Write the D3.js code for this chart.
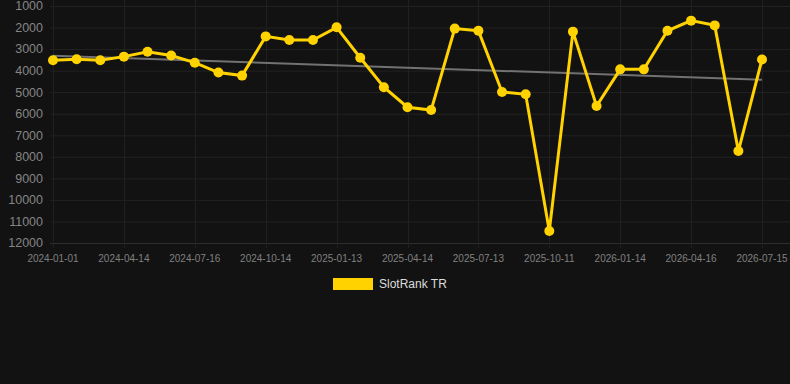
<!DOCTYPE html>
<html>
<head>
<meta charset="utf-8">
<script src="https://cdn.jsdelivr.net/npm/d3@7"></script>
<style>
    html, body { margin: 0; padding: 0; background: #121212; }
    #chart { width: 790px; height: 384px; }
    text { font-family: "Liberation Sans", Arial, sans-serif; }
</style>
</head>
<body>
<div id="chart"></div>
<script>
// categories (one per sample, every third one is labelled)
const dates = [
    '2024-01-01', '2024-02-04', '2024-03-10', '2024-04-14', '2024-05-15', '2024-06-15',
    '2024-07-16', '2024-08-15', '2024-09-14', '2024-10-14', '2024-11-13', '2024-12-13',
    '2025-01-13', '2025-02-12', '2025-03-14', '2025-04-14', '2025-05-14', '2025-06-13',
    '2025-07-13', '2025-08-12', '2025-09-11', '2025-10-11', '2025-11-13', '2025-12-14',
    '2026-01-14', '2026-02-14', '2026-03-16', '2026-04-16', '2026-05-16', '2026-06-15',
    '2026-07-15'
];
const rankTR = [
    3520, 3475, 3520, 3350, 3120, 3300, 3630, 4090, 4230, 2410, 2580,
    2580, 1990, 3400, 4770, 5700, 5830, 2050, 2150, 4990, 5100, 11440,
    2190, 5640, 3940, 3940, 2150, 1680, 1900, 7730, 3480
];
const trendEnds = [3310, 4420];
const yTicks = [1000, 2000, 3000, 4000, 5000, 6000, 7000, 8000, 9000, 10000, 11000, 12000];
const seriesName = 'SlotRank TR';

const width = 790;
const height = 384;

const svg = d3.select('#chart').append('svg')
    .attr('width', width)
    .attr('height', height);

const x = d3.scalePoint()
    .domain(dates)
    .range([53, 762]);

const y = d3.scaleLinear()
    .domain([1000, 12000])
    .range([6, 243]);

// horizontal grid
svg.append('g')
    .selectAll('line')
    .data(yTicks)
    .enter().append('line')
    .attr('x1', 50)
    .attr('x2', width)
    .attr('y1', d => y(d) + 0.5)
    .attr('y2', d => y(d) + 0.5)
    .attr('stroke', d => d === 12000 ? '#2e2e2e' : '#222222');

// vertical grid on labelled categories
const labelled = dates.filter((d, i) => i % 3 === 0);
svg.append('g')
    .selectAll('line')
    .data(labelled)
    .enter().append('line')
    .attr('x1', d => Math.round(x(d)) + 0.5)
    .attr('x2', d => Math.round(x(d)) + 0.5)
    .attr('y1', 0)
    .attr('y2', 248)
    .attr('stroke', '#202020');

// y labels
svg.append('g')
    .selectAll('text')
    .data(yTicks)
    .enter().append('text')
    .attr('x', 43)
    .attr('y', d => y(d))
    .attr('dy', '0.35em')
    .attr('text-anchor', 'end')
    .attr('fill', '#858585')
    .attr('font-size', '12.5px')
    .text(d => d);

// x labels
svg.append('g')
    .selectAll('text')
    .data(labelled)
    .enter().append('text')
    .attr('x', d => x(d))
    .attr('y', 262)
    .attr('text-anchor', 'middle')
    .attr('fill', '#808080')
    .attr('font-size', '10px')
    .text(d => d);

// trend line
svg.append('line')
    .attr('x1', x(dates[0]))
    .attr('x2', x(dates[dates.length - 1]))
    .attr('y1', y(trendEnds[0]))
    .attr('y2', y(trendEnds[1]))
    .attr('stroke', '#727272')
    .attr('stroke-width', 2);

// series line
const line = d3.line()
    .x((d, i) => x(dates[i]))
    .y(d => y(d));

svg.append('path')
    .datum(rankTR)
    .attr('d', line)
    .attr('fill', 'none')
    .attr('stroke', '#ffd200')
    .attr('stroke-width', 3);

svg.append('g')
    .selectAll('circle')
    .data(rankTR)
    .enter().append('circle')
    .attr('cx', (d, i) => x(dates[i]))
    .attr('cy', d => y(d))
    .attr('r', 5)
    .attr('fill', '#ffd200');

// legend
const legend = svg.append('g');
legend.append('rect')
    .attr('x', 333)
    .attr('y', 278)
    .attr('width', 40)
    .attr('height', 12)
    .attr('fill', '#ffd200');
legend.append('text')
    .attr('x', 379)
    .attr('y', 284)
    .attr('dy', '0.35em')
    .attr('fill', '#dddddd')
    .attr('font-size', '12px')
    .text(seriesName);
</script>
</body>
</html>
